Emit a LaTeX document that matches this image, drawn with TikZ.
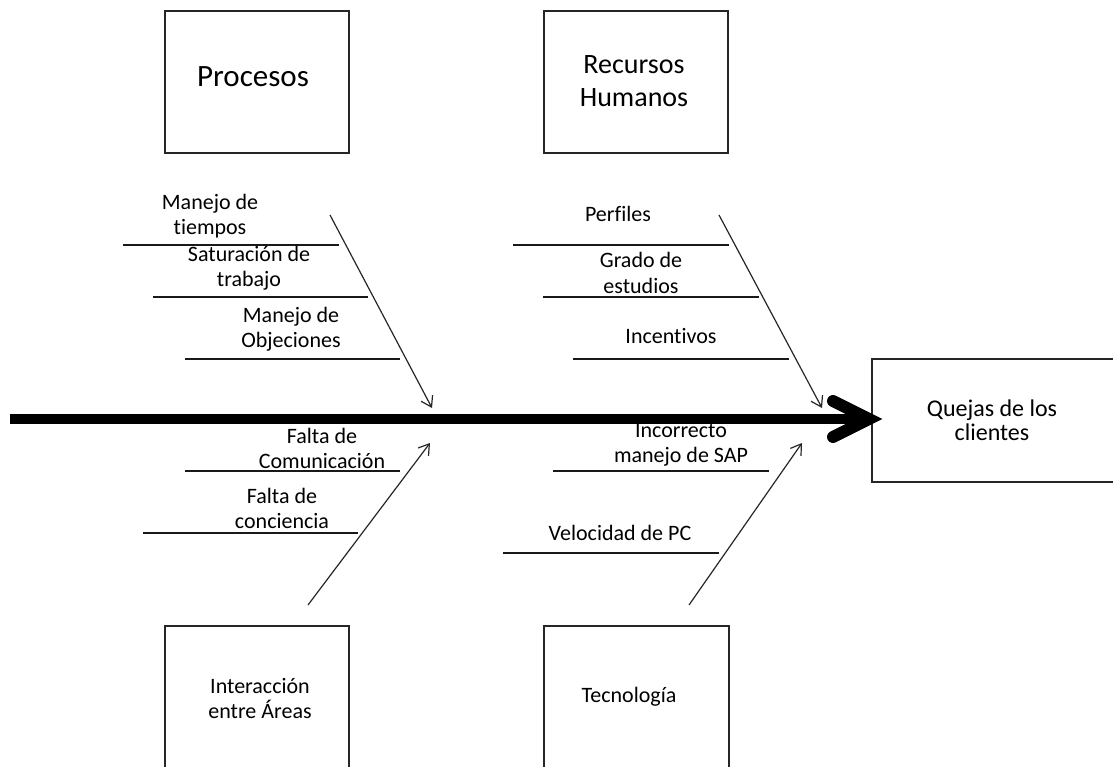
\documentclass[tikz,border=0pt]{standalone}
\usepackage{fontspec}
\setmainfont{Carlito}[Ligatures=NoCommon]
\usetikzlibrary{arrows.meta}

\begin{document}
\begin{tikzpicture}[x=1pt,y=-1pt,
  catbox/.style={draw=black!85, line width=1.7pt},
  lbl/.style={anchor=base, align=center, inner sep=0pt, font=\fontsize{22}{25}\selectfont},
  rib/.style={draw=black!90, line width=1.3pt},
  bone/.style={draw=black!85, line width=1.2pt,
    -{Straight Barb[length=10pt,width=13pt,line width=1.2pt]}},
  spine/.style={draw=black, line width=10pt},
  head/.style={draw=black, line width=12pt, line cap=round, line join=miter},
]
\useasboundingbox (0,0) rectangle (1113,767);

% ---- category boxes ----
% (a node placed with anchor=base sits on the baseline of its last line)
\draw[catbox] (165,11) rectangle (349,153);
\draw[catbox] (544,11) rectangle (728,153);
\draw[catbox] (165,626) rectangle (349,790);
\draw[catbox] (544,626) rectangle (729,790);
\draw[catbox] (872,359) rectangle (1130,482);

\node[lbl, font=\fontsize{31}{36}\selectfont] (procesos) at (253,87) {Procesos};
\node[lbl, font=\fontsize{28}{33}\selectfont] (rrhh) at (634,107) {Recursos\\Humanos};
\node[lbl] (interaccion) at (260,718) {Interacción\\entre Áreas};
\node[lbl] (tecnologia) at (629,702) {Tecnología};
\node[lbl, font=\fontsize{24}{24}\selectfont] (quejas) at (992,440) {Quejas de los\\clientes};

% ---- spine and its head ----
\coordinate (tail) at (10,419);
\coordinate (tip) at (869,419);
\coordinate (hu) at (833,401);
\coordinate (hd) at (833,437);
\draw[spine] (tail) -- (tip);
\draw[head] (hu) -- (tip) -- (hd);

% ---- main bones ----
\coordinate (b1s) at (330,215); \coordinate (b1e) at (432,408);
\coordinate (b2s) at (719,215); \coordinate (b2e) at (822,408);
\coordinate (b3s) at (308,605); \coordinate (b3e) at (430,443);
\coordinate (b4s) at (689,605); \coordinate (b4e) at (802,443);
\draw[bone] (b1s) -- (b1e);
\draw[bone] (b2s) -- (b2e);
\draw[bone] (b3s) -- (b3e);
\draw[bone] (b4s) -- (b4e);

% ---- ribs: Procesos ----
\coordinate (r1a) at (123,245); \coordinate (r1b) at (339,245);
\coordinate (r2a) at (153,297); \coordinate (r2b) at (368,297);
\coordinate (r3a) at (185,359); \coordinate (r3b) at (400,359);
\draw[rib] (r1a) -- (r1b);
\draw[rib] (r2a) -- (r2b);
\draw[rib] (r3a) -- (r3b);
\node[lbl] (t1) at (210,235) {Manejo de\\tiempos};
\node[lbl] (t2) at (249,287) {Saturación de\\trabajo};
\node[lbl] (t3) at (291,347) {Manejo de\\Objeciones};

% ---- ribs: Recursos Humanos ----
\coordinate (r4a) at (513,245); \coordinate (r4b) at (729,245);
\coordinate (r5a) at (543,297); \coordinate (r5b) at (759,297);
\coordinate (r6a) at (573,359); \coordinate (r6b) at (789,359);
\draw[rib] (r4a) -- (r4b);
\draw[rib] (r5a) -- (r5b);
\draw[rib] (r6a) -- (r6b);
\node[lbl] (t4) at (618,222) {Perfiles};
\node[lbl] (t5) at (641,293) {Grado de\\estudios};
\node[lbl] (t6) at (671,343) {Incentivos};

% ---- ribs: Interacción entre Áreas ----
\coordinate (r7a) at (185,471); \coordinate (r7b) at (400,471);
\coordinate (r8a) at (143,533); \coordinate (r8b) at (358,533);
\draw[rib] (r7a) -- (r7b);
\draw[rib] (r8a) -- (r8b);
\node[lbl] (t7) at (322,468) {Falta de\\Comunicación};
\node[lbl] (t8) at (282,528) {Falta de\\conciencia};

% ---- ribs: Tecnología ----
\coordinate (r9a) at (553,471); \coordinate (r9b) at (769,471);
\coordinate (r10a) at (503,553); \coordinate (r10b) at (719,553);
\draw[rib] (r9a) -- (r9b);
\draw[rib] (r10a) -- (r10b);
\node[lbl] (t9) at (681,462) {Incorrecto\\manejo de SAP};
\node[lbl] (t10) at (620,540) {Velocidad de PC};
\end{tikzpicture}
\end{document}
